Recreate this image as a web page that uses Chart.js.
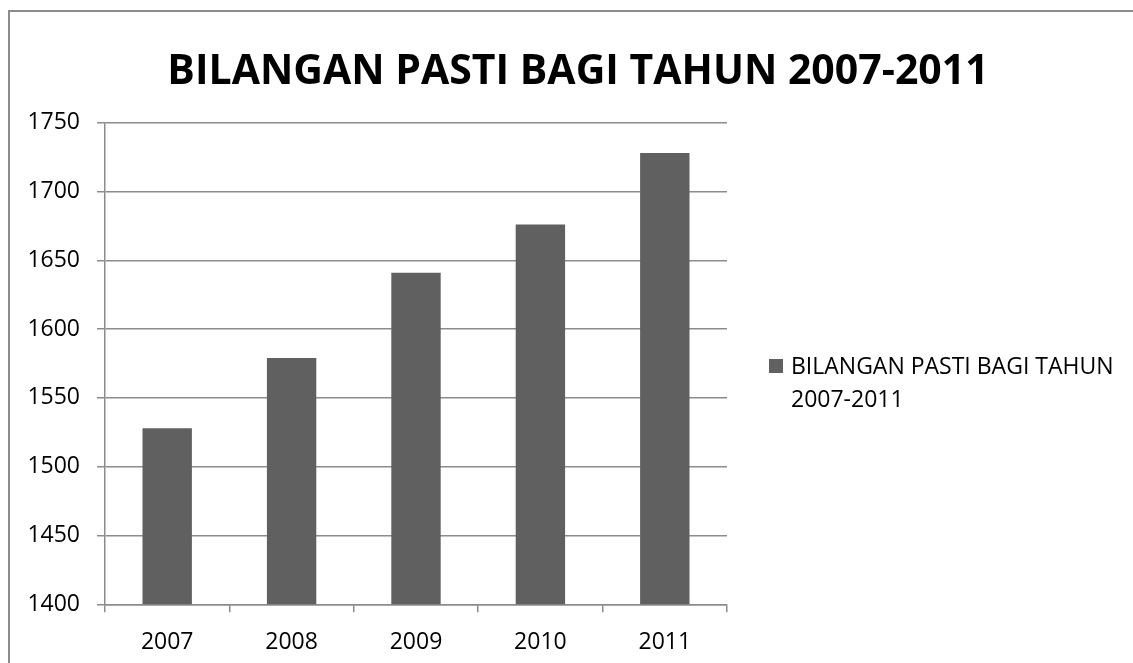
<!DOCTYPE html>
<html>
<head>
<meta charset="utf-8">
<script src="https://cdn.jsdelivr.net/npm/chart.js@4.4.1/dist/chart.umd.min.js"></script>
<style>
  html, body { margin: 0; padding: 0; background: #fff; overflow: hidden; }
  #frame {
    position: absolute; left: 8px; top: 10px; width: 1200px; height: 700px;
    border-left: 2px solid #8c8c8c; border-top: 2px solid #8c8c8c;
  }
  #myChart { position: absolute; left: 0; top: 0; }
</style>
</head>
<body>
<div id="frame"></div>
<canvas id="myChart" width="1133" height="663"></canvas>
<script>
"use strict";
const tahun = ["2007", "2008", "2009", "2010", "2011"];
const bilangan = [1528, 1579, 1641, 1676, 1728];
const judul = "BILANGAN PASTI BAGI TAHUN 2007-2011";
const legendBaris = ["BILANGAN PASTI BAGI TAHUN", "2007-2011"];

const warnaBar = "#606060";
const warnaGaris = "#8c8c8c";
const hurufBiasa = "'Open Sans', 'Noto Sans', sans-serif";

// judul di tengah kanvas, legend dua baris di kanan
const judulDanLegend = {
  id: "judulDanLegend",
  afterDraw(chart) {
    const ctx = chart.ctx;
    ctx.save();
    ctx.fillStyle = "#000";
    ctx.font = "bold 41px " + hurufBiasa;
    ctx.textAlign = "center";
    ctx.textBaseline = "alphabetic";
    ctx.fillText(judul, 578, 84);

    const x = chart.chartArea.right + 42;
    const y = 359;
    ctx.fillStyle = warnaBar;
    ctx.fillRect(x, y, 14, 14);
    ctx.fillStyle = "#000";
    ctx.font = "23px " + hurufBiasa;
    ctx.textAlign = "left";
    for (let i = 0; i < legendBaris.length; i++) {
      ctx.fillText(legendBaris[i], x + 22, y + 15 + i * 33);
    }
    ctx.restore();
  }
};

const data = {
  labels: tahun,
  datasets: [
    {
      label: judul,
      backgroundColor: warnaBar,
      data: bilangan,
      barPercentage: 0.397,
      categoryPercentage: 1
    }
  ]
};

const config = {
  type: "bar",
  data: data,
  plugins: [judulDanLegend],
  options: {
    responsive: false,
    animation: false,
    layout: { padding: { left: 0, right: 406, top: 122.7, bottom: 0 } },
    scales: {
      y: {
        min: 1400,
        max: 1750,
        afterFit(scale) { scale.width = 105; },
        ticks: {
          stepSize: 50,
          color: "#000",
          padding: 17,
          font: { family: hurufBiasa, size: 23 },
          callback: (v) => String(v)
        },
        grid: { color: warnaGaris, lineWidth: 1.5, tickLength: 8 },
        border: { color: warnaGaris, width: 1.5 }
      },
      x: {
        afterFit(scale) { scale.height = 58.7; },
        ticks: {
          color: "#000",
          padding: 16,
          font: { family: hurufBiasa, size: 23 }
        },
        grid: { drawOnChartArea: false, color: warnaGaris, lineWidth: 1.5, tickLength: 8 },
        border: { color: warnaGaris, width: 1.5 }
      }
    },
    plugins: {
      legend: { display: false },
      tooltip: { enabled: false },
      title: { display: false }
    }
  }
};

let myChart = new Chart(document.getElementById("myChart"), config);
</script>
</body>
</html>
